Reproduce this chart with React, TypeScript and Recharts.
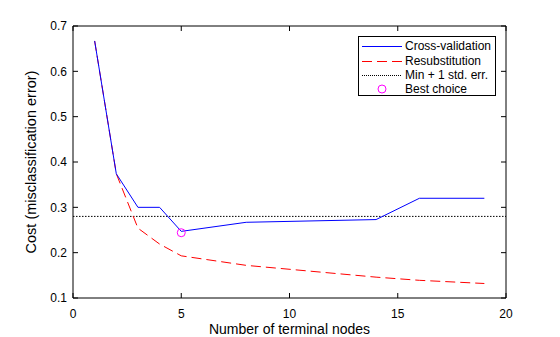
import React from "react";
import {
  ComposedChart,
  Line,
  Scatter,
  XAxis,
  YAxis,
  ReferenceLine,
  Legend,
} from "recharts";

// values
const terminalNodes = [1, 2, 3, 4, 5, 8, 14, 16, 19];
const crossValidation = [0.667, 0.374, 0.3, 0.3, 0.247, 0.267, 0.273, 0.32, 0.32];
const resubstitution = [0.667, 0.374, 0.254, 0.219, 0.193, 0.172, 0.146, 0.139, 0.132];
const minPlusOneSE = 0.28;
const bestChoice = { nodes: 5, cost: 0.244 };

const xTicks = [0, 5, 10, 15, 20];
const yTicks = [0.1, 0.2, 0.3, 0.4, 0.5, 0.6, 0.7];
const xDomain: [number, number] = [0, 20];
const yDomain: [number, number] = [0.1, 0.7];

const legendItems = [
  { label: "Cross-validation", kind: "solid", color: "#0000ff" },
  { label: "Resubstitution", kind: "dashed", color: "#ff0000" },
  { label: "Min + 1 std. err.", kind: "dotted", color: "#000000" },
  { label: "Best choice", kind: "circle", color: "#ff00ff" },
];

const rows = terminalNodes.map((n, i) => ({
  n,
  cv: crossValidation[i],
  rs: resubstitution[i],
}));
const bestRows = [{ n: bestChoice.nodes, best: bestChoice.cost }];

const tickFont = { fontSize: 12, fill: "#000" };
// tick marks only, no label
const noLabel = () => <g />;

function CostLegend() {
  return (
    <div
      style={{
        width: 138,
        height: 60,
        boxSizing: "border-box",
        border: "1px solid #000",
        background: "#fff",
        padding: "2px 0 0 3px",
        fontSize: 12,
        color: "#000",
      }}
    >
      {legendItems.map((item) => (
        <div key={item.label} style={{ display: "flex", alignItems: "center", height: 14.4 }}>
          <svg width={40} height={10} style={{ marginRight: 3 }}>
            {item.kind === "circle" ? (
              <circle cx={20} cy={5} r={4} fill="none" stroke={item.color} />
            ) : (
              <line
                x1={0}
                x2={40}
                y1={5.5}
                y2={5.5}
                stroke={item.color}
                strokeDasharray={
                  item.kind === "dashed" ? "10 5" : item.kind === "dotted" ? "1 1" : undefined
                }
              />
            )}
          </svg>
          <span style={{ lineHeight: "14px", whiteSpace: "nowrap" }}>{item.label}</span>
        </div>
      ))}
    </div>
  );
}

export default function App() {
  return (
    <div
      style={{
        position: "absolute",
        left: 0,
        top: 0,
        background: "#fff",
        fontFamily: "'Liberation Sans', Arial, sans-serif",
      }}
    >
      <ComposedChart
        width={560}
        height={337}
        data={rows}
        margin={{ top: 25, right: 53, bottom: 9, left: 33 }}
      >
        <XAxis
          xAxisId="x"
          dataKey="n"
          type="number"
          domain={xDomain}
          ticks={xTicks}
          tickLine={false}
          axisLine={{ stroke: "#000" }}
          tick={tickFont}
          tickMargin={5}
          height={30}
          label={{
            value: "Number of terminal nodes",
            position: "insideBottom",
            offset: -6,
            style: { fontSize: 14, fill: "#000" },
          }}
        />
        <XAxis
          xAxisId="xin"
          dataKey="n"
          type="number"
          domain={xDomain}
          ticks={xTicks}
          mirror
          tick={noLabel}
          tickSize={5}
          axisLine={false}
          tickLine={{ stroke: "#000" }}
        />
        <XAxis
          xAxisId="xtop"
          dataKey="n"
          orientation="top"
          type="number"
          domain={xDomain}
          ticks={xTicks}
          height={1}
          tick={noLabel}
          tickSize={-5}
          axisLine={{ stroke: "#000" }}
          tickLine={{ stroke: "#000" }}
        />
        <YAxis
          yAxisId="y"
          type="number"
          domain={yDomain}
          ticks={yTicks}
          width={40}
          tickLine={false}
          axisLine={{ stroke: "#000" }}
          tick={tickFont}
          tickMargin={0}
          tickFormatter={(v: number) => v.toFixed(1)}
          label={{
            value: "Cost (misclassification error)",
            angle: -90,
            position: "insideLeft",
            offset: -2,
            style: { fontSize: 14.5, fill: "#000", textAnchor: "middle" },
          }}
        />
        <YAxis
          yAxisId="yin"
          type="number"
          domain={yDomain}
          ticks={yTicks}
          mirror
          tick={noLabel}
          tickSize={5}
          axisLine={false}
          tickLine={{ stroke: "#000" }}
        />
        <YAxis
          yAxisId="yright"
          orientation="right"
          type="number"
          domain={yDomain}
          ticks={yTicks}
          width={1}
          tick={noLabel}
          tickSize={-5}
          axisLine={{ stroke: "#000" }}
          tickLine={{ stroke: "#000" }}
        />
        <ReferenceLine
          xAxisId="x"
          yAxisId="y"
          y={minPlusOneSE}
          stroke="#000"
          strokeDasharray="1.5 1.5"
        />
        <Line
          xAxisId="x"
          yAxisId="y"
          dataKey="rs"
          type="linear"
          stroke="#ff0000"
          strokeWidth={1}
          strokeDasharray="10 5"
          dot={false}
          activeDot={false}
          isAnimationActive={false}
        />
        <Line
          xAxisId="xin"
          yAxisId="yin"
          dataKey="cv"
          type="linear"
          stroke="#0000ff"
          strokeWidth={1}
          dot={false}
          activeDot={false}
          isAnimationActive={false}
        />
        <Scatter
          xAxisId="xtop"
          yAxisId="yright"
          data={bestRows}
          dataKey="best"
          isAnimationActive={false}
          shape={(p: any) => (
            <circle cx={p.cx} cy={p.cy} r={4} fill="none" stroke="#ff00ff" />
          )}
        />
        <Legend
          layout="vertical"
          align="center"
          verticalAlign="middle"
          wrapperStyle={{ left: 358, top: 36, width: 138 }}
          content={() => <CostLegend />}
        />
      </ComposedChart>
    </div>
  );
}
